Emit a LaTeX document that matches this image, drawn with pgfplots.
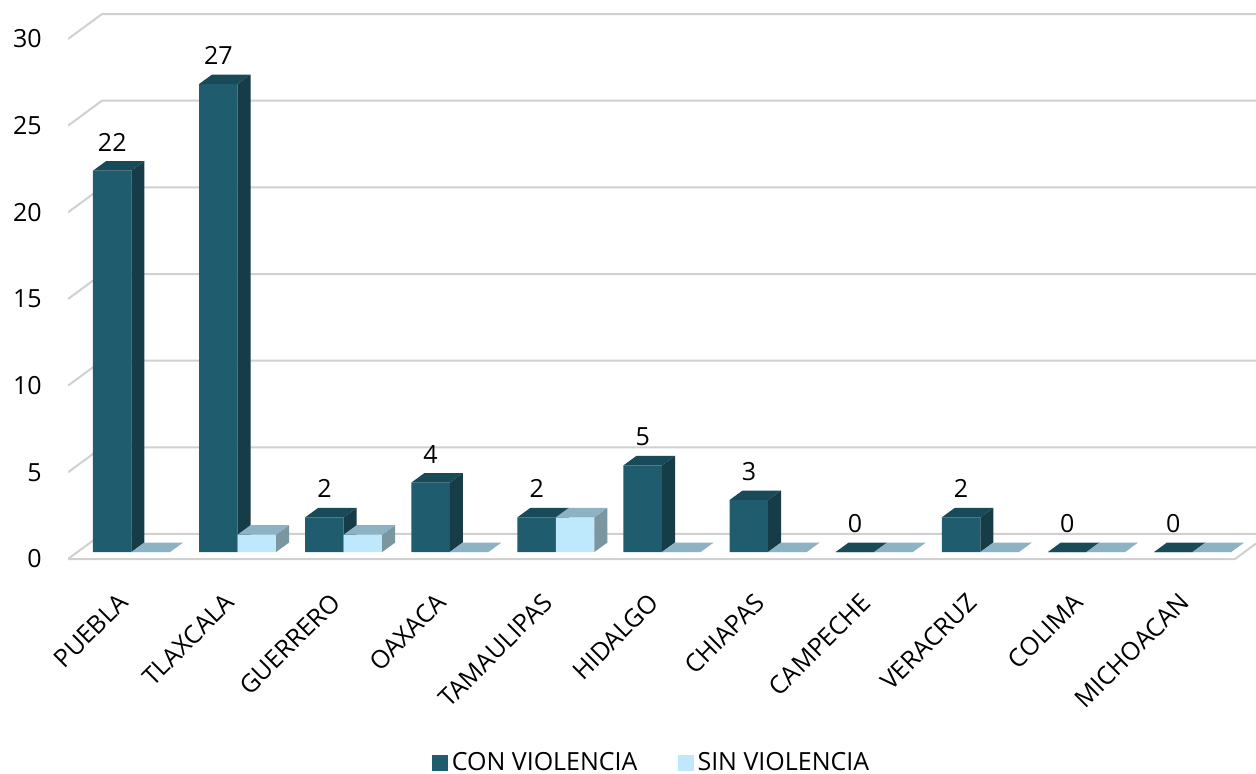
\documentclass[border=0pt]{standalone}
\usepackage{fontspec}
\setmainfont{Open Sans}
\usepackage{pgfplots}
\usepackage{pgfplotstable}
\pgfplotsset{compat=1.18}
\definecolor{cdark}{RGB}{31,93,110}
\definecolor{cdarkside}{RGB}{22,60,72}
\definecolor{cdarktop}{RGB}{24,74,88}
\definecolor{clight}{RGB}{190,232,251}
\definecolor{clightside}{RGB}{122,150,160}
\definecolor{clighttop}{RGB}{141,178,195}
\definecolor{cgrid}{RGB}{208,208,208}
\newcommand{\lblfont}{\fontsize{12.5pt}{14pt}\selectfont}
\pgfplotstableread{
cat con sin
0 22 0
1 27 1
2 2 1
3 4 0
4 2 2
5 5 0
6 3 0
7 0 0
8 2 0
9 0 0
10 0 0
}\datatable
\begin{document}
\begin{tikzpicture}
\useasboundingbox (-34pt,-91.5pt) rectangle (594pt,295.5pt);
\begin{axis}[
  at={(0,0)}, anchor=south west,
  scale only axis, width=594pt, height=295.5pt,
  xmin=-0.598, xmax=10.598, ymin=-2.25, ymax=31.85,
  axis line style={draw=none}, tick style={draw=none},
  /pgf/number format/assume math mode=true,
  every tick label/.append style={font=\lblfont, inner sep=0pt},
  ytick={-0.404,4.596,9.596,14.596,19.596,24.596,29.596},
  yticklabels={0,5,10,15,20,25,30},
  yticklabel style={xshift=-13pt},
  xtick={-0.137,0.863,1.863,2.863,3.863,4.863,5.863,6.863,7.863,8.863,9.863},
  xticklabels={PUEBLA,TLAXCALA,GUERRERO,OAXACA,TAMAULIPAS,HIDALGO,CHIAPAS,CAMPECHE,VERACRUZ,COLIMA,MICHOACAN},
  xticklabel style={rotate=45, anchor=north east},
  legend style={at={(axis description cs:0.492,-0.291)}, anchor=center, draw=none,
    legend columns=2, font=\lblfont,
    /tikz/every even column/.append style={column sep=18pt}},
]
% back wall gridlines with left diagonals
\pgfplotsinvokeforeach{0,5,10,15,20,25,30}{
  \pgfmathsetmacro\yf{#1-0.404}
  \pgfmathsetmacro\yb{#1+1.039}
  \edef\tmp{\noexpand\addplot[forget plot, color=cgrid, line width=1pt] coordinates {(-0.598,\yf) (-0.278,\yb) (10.598,\yb)};}\tmp
}
% floor front edge and right diagonal
\addplot[forget plot, color=cgrid, line width=1pt] coordinates {(-0.598,-0.404) (10.40,-0.404) (10.598,0.49)};

% CON VIOLENCIA
\addplot[ybar, bar width=0.363, bar shift=-0.1815, fill=cdark, draw=none,
  legend image code/.code={\fill[cdark] (0pt,-4pt) rectangle (8pt,4pt);},
  nodes near coords, nodes near coords style={anchor=south, inner sep=0pt, xshift=-9.6pt, yshift=9.5pt, font=\lblfont, text=black}]
  table[x=cat, y=con] {\datatable};
\addlegendentry{CON VIOLENCIA}
\pgfplotsinvokeforeach{0,...,10}{
  \pgfplotstablegetelem{#1}{con}\of\datatable
  \pgfmathsetmacro\v{\pgfplotsretval}
  \pgfmathsetmacro\vt{\v+0.548}
  \pgfmathsetmacro\xa{#1-0.363}
  \pgfmathsetmacro\xad{#1-0.363+0.1225}
  \pgfmathsetmacro\xb{#1}
  \pgfmathsetmacro\xbd{#1+0.1225}
  \edef\tmp{\noexpand\addplot[forget plot, fill=cdarkside, draw=none] coordinates {(\xb,0) (\xbd,0.548) (\xbd,\vt) (\xb,\v)};
    \noexpand\addplot[forget plot, fill=cdarktop, draw=none] coordinates {(\xa,\v) (\xb,\v) (\xbd,\vt) (\xad,\vt)};}\tmp
}
% SIN VIOLENCIA
\addplot[ybar, bar width=0.363, bar shift=0.1815, fill=clight, draw=none,
  legend image code/.code={\fill[clight] (0pt,-4pt) rectangle (8pt,4pt);}]
  table[x=cat, y=sin] {\datatable};
\addlegendentry{SIN VIOLENCIA}
\pgfplotsinvokeforeach{0,...,10}{
  \pgfplotstablegetelem{#1}{sin}\of\datatable
  \pgfmathsetmacro\v{\pgfplotsretval}
  \pgfmathsetmacro\vt{\v+0.548}
  \pgfmathsetmacro\xa{#1}
  \pgfmathsetmacro\xad{#1+0.1225}
  \pgfmathsetmacro\xb{#1+0.363}
  \pgfmathsetmacro\xbd{#1+0.363+0.1225}
  \edef\tmp{\noexpand\addplot[forget plot, fill=clightside, draw=none] coordinates {(\xb,0) (\xbd,0.548) (\xbd,\vt) (\xb,\v)};
    \noexpand\addplot[forget plot, fill=clighttop, draw=none] coordinates {(\xa,\v) (\xb,\v) (\xbd,\vt) (\xad,\vt)};}\tmp
}
\end{axis}
\end{tikzpicture}
\end{document}
